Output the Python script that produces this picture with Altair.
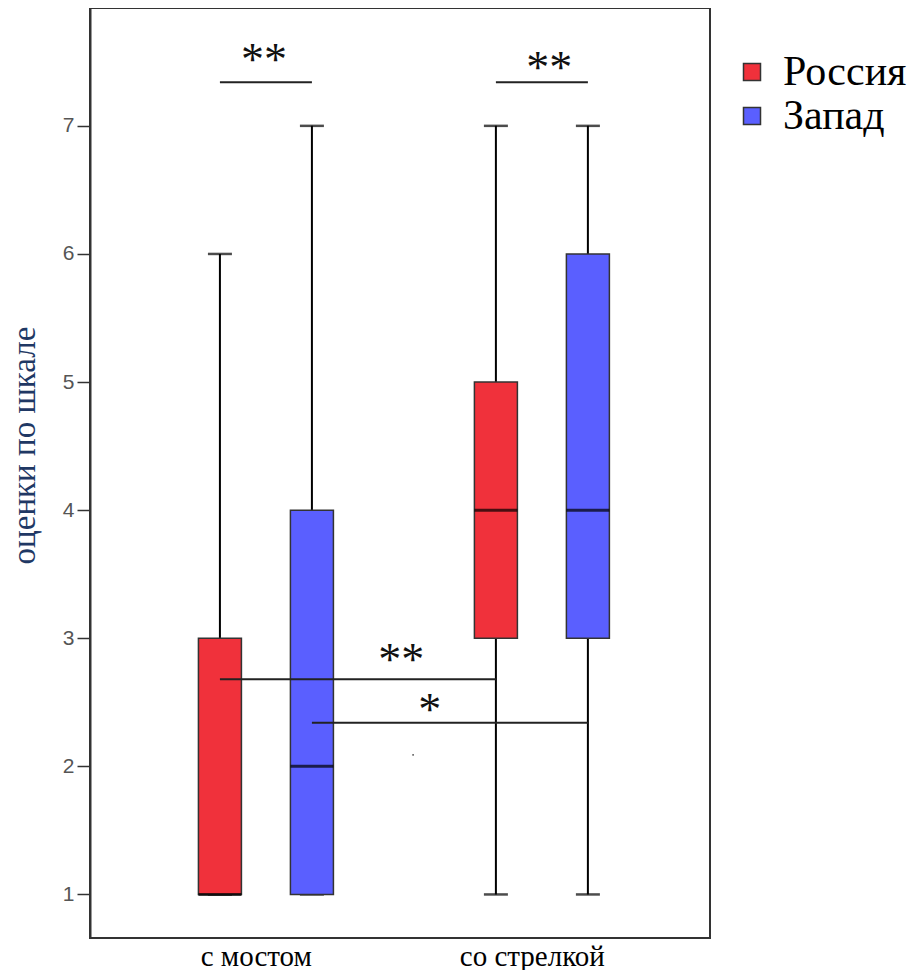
import altair as alt
import pandas as pd

# ---- data ----
categories = ["с мостом", "со стрелкой"]
groups = ["Россия", "Запад"]
colors = ["#F0313B", "#5A5FFF"]

# box order: (с мостом, Россия), (с мостом, Запад), (со стрелкой, Россия), (со стрелкой, Запад)
whisker_low = [1, 1, 1, 1]
q1 = [1, 1, 3, 3]
median = [1, 2, 4, 4]
q3 = [3, 4, 5, 6]
whisker_high = [6, 7, 7, 7]

# significance annotations (pairs of box indices)
comp_from = [0, 2, 0, 1]
comp_to = [1, 3, 2, 3]
comp_level = [7.34, 7.34, 2.68, 2.34]
comp_label = ["**", "**", "**", "*"]
comp_label_x = [1.48, 4.58, 2.97, 3.28]
comp_label_y = [7.56, 7.50, 2.875, 2.49]

stray_dot_x = [3.10]
stray_dot_y = [2.09]

y_ticks = [1, 2, 3, 4, 5, 6, 7]

# ---- tables ----
rows = []
for ci, cat in enumerate(categories):
    for gi, grp in enumerate(groups):
        k = ci * len(groups) + gi
        rows.append(dict(category=cat, group=grp, slot=ci * 3 + gi + 1,
                         lo=whisker_low[k], q1=q1[k], med=median[k], q3=q3[k], hi=whisker_high[k]))
boxes = pd.DataFrame(rows)

slots = list(boxes["slot"])
ann = pd.DataFrame(dict(
    xa=[slots[i] for i in comp_from],
    xb=[slots[i] for i in comp_to],
    level=comp_level,
    label=comp_label,
    lx=comp_label_x,
    ly=comp_label_y,
))
dot = pd.DataFrame(dict(x=stray_dot_x, y=stray_dot_y))

label_shift = 0.11
cat_centers = [ci * 3 + 1.5 - label_shift for ci in range(len(categories))]
label_expr = " : ".join(
    [f"datum.value < {c + 1.5} ? '{cat}'" for c, cat in zip(cat_centers[:-1], categories[:-1])]
    + [f"'{categories[-1]}'"]
)

xscale = alt.Scale(domain=[-0.358, 6.273], nice=False, zero=False)
yscale = alt.Scale(domain=[0.66, 7.92], nice=False, zero=False)

xaxis = alt.Axis(values=cat_centers, labelExpr=label_expr, ticks=False, domain=False, grid=False,
                 labelFont="Liberation Serif", labelFontSize=29, labelColor="#000",
                 labelPadding=4, title=None)
yaxis = alt.Axis(values=y_ticks, grid=False, domain=True, domainColor="#333", domainWidth=2,
                 tickSize=13, tickColor="#333", tickWidth=1.5,
                 labelFont="Liberation Sans", labelFontSize=21, labelColor="#555", labelPadding=3,
                 title="оценки по шкале", titleFont="Liberation Serif", titleFontSize=33,
                 titleFontWeight="normal", titleColor="#1F3864", titleX=-49, titleY=437)

def X(field):
    return alt.X(f"{field}:Q", scale=xscale, axis=xaxis)

def Y(field):
    return alt.Y(f"{field}:Q", scale=yscale, axis=yaxis)

base = alt.Chart(boxes)

whisker = base.mark_rule(color="#000", strokeWidth=2).encode(x=X("slot"), y=Y("lo"), y2="hi")
cap_hi = base.mark_tick(orient="horizontal", size=24, thickness=2.5, color="#000").encode(x=X("slot"), y=Y("hi"))
cap_lo = base.mark_tick(orient="horizontal", size=24, thickness=2.5, color="#000").encode(x=X("slot"), y=Y("lo"))
box = base.mark_bar(size=43, stroke="#333", strokeWidth=1.5, opacity=1).encode(
    x=X("slot"), y=Y("q1"), y2="q3",
    color=alt.Color("group:N", scale=alt.Scale(domain=groups, range=colors),
                    legend=alt.Legend(title=None, orient="none", legendX=641, legendY=43,
                                      symbolType="square", symbolSize=289,
                                      symbolStrokeColor="#333", symbolStrokeWidth=1.5,
                                      labelFont="Liberation Serif", labelFontSize=42,
                                      labelColor="#000", labelOffset=10, rowPadding=2,
                                      padding=0, labelLimit=300)),
)
med = base.mark_tick(orient="horizontal", size=43, thickness=3, color="#000").encode(x=X("slot"), y=Y("med"))

ann_base = alt.Chart(ann)
ann_rule = ann_base.mark_rule(color="#222", strokeWidth=2).encode(x=X("xa"), x2="xb", y=Y("level"))
ann_text = ann_base.mark_text(font="Liberation Serif", fontSize=46, color="#111",
                              baseline="middle", align="center", dy=7).encode(
    x=X("lx"), y=Y("ly"), text="label:N")
stray = alt.Chart(dot).mark_point(shape="square", size=3, filled=True, color="#333").encode(
    x=X("x"), y=Y("y"))

chart = alt.layer(whisker, cap_hi, cap_lo, box, med, ann_rule, ann_text, stray).properties(
    width=620, height=930,
    autosize=alt.AutoSizeParams(type="none"),
    padding={"left": 82, "top": 0, "right": 204, "bottom": 32},
).configure(background="white").configure_view(stroke="#333", strokeWidth=2)

chart.save("out.html", embed_options={"renderer": "svg", "actions": False})
